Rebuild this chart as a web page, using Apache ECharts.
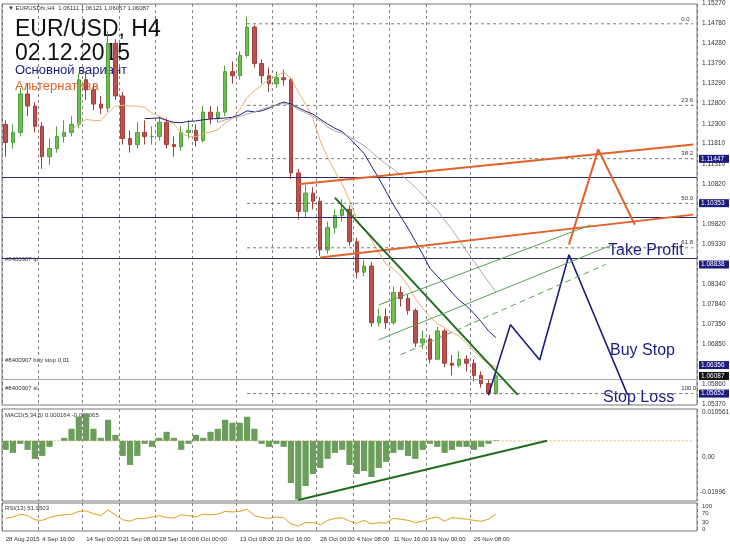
<!DOCTYPE html>
<html><head><meta charset="utf-8">
<script src="https://cdn.jsdelivr.net/npm/echarts@6/dist/echarts.min.js"></script>
<style>html,body{margin:0;padding:0;background:#fff}#c{width:730px;height:546px}</style>
</head><body><div id="c"></div>
<script>
const dates = ["28 Aug 2015","31 Aug","1 Sep","2 Sep","3 Sep","4 Sep 16:00","7 Sep","8 Sep","9 Sep","10 Sep","11 Sep","14 Sep 00:00","15 Sep","16 Sep","17 Sep","18 Sep","21 Sep 08:00","22 Sep","23 Sep","24 Sep","25 Sep","28 Sep 16:00","29 Sep","30 Sep","1 Oct","2 Oct","6 Oct 00:00","6 Oct","7 Oct","8 Oct","9 Oct","12 Oct","13 Oct 08:00","14 Oct","15 Oct","16 Oct","19 Oct","20 Oct 16:00","21 Oct","22 Oct","23 Oct","26 Oct","27 Oct","28 Oct 00:00","29 Oct","30 Oct","2 Nov","3 Nov","4 Nov 08:00","5 Nov","6 Nov","9 Nov","10 Nov","11 Nov 16:00","12 Nov","13 Nov","16 Nov","17 Nov","19 Nov 00:00","19 Nov","20 Nov","23 Nov","24 Nov","25 Nov","26 Nov 08:00","27 Nov","30 Nov","1 Dec"];
const labelIdx = [0,5,11,16,21,26,32,37,43,48,53,58,64];
const futureSlots = 27;
const closes = [1.1185,1.1210,1.1305,1.1275,1.1225,1.1150,1.1170,1.1200,1.1210,1.1230,1.1340,1.1315,1.1280,1.1270,1.1430,1.1300,1.1195,1.1180,1.1210,1.1200,1.1200,1.1235,1.1180,1.1175,1.1210,1.1215,1.1190,1.1260,1.1245,1.1260,1.1360,1.1350,1.1400,1.1470,1.1380,1.1350,1.1330,1.1345,1.1340,1.1110,1.1015,1.1060,1.1040,1.0920,1.0975,1.1005,1.1020,1.0940,1.0865,1.0880,1.0740,1.0755,1.0740,1.0815,1.0800,1.0770,1.0690,1.0700,1.0650,1.0720,1.0640,1.0635,1.0650,1.0640,1.0610,1.0590,1.0565,1.0609];
const highs = [1.1240,1.1230,1.1320,1.1330,1.1285,1.1235,1.1195,1.1225,1.1240,1.1250,1.1355,1.1360,1.1330,1.1300,1.1460,1.1440,1.1310,1.1215,1.1235,1.1240,1.1225,1.1250,1.1245,1.1200,1.1225,1.1240,1.1230,1.1275,1.1275,1.1275,1.1375,1.1385,1.1410,1.1495,1.1475,1.1390,1.1370,1.1360,1.1365,1.1345,1.1120,1.1080,1.1075,1.1050,1.0990,1.1020,1.1045,1.1030,1.0950,1.0895,1.0890,1.0775,1.0775,1.0830,1.0830,1.0810,1.0775,1.0720,1.0710,1.0730,1.0725,1.0660,1.0670,1.0660,1.0650,1.0620,1.0600,1.0620];
const lows = [1.1150,1.1170,1.1200,1.1250,1.1210,1.1120,1.1130,1.1160,1.1185,1.1200,1.1220,1.1290,1.1265,1.1255,1.1260,1.1290,1.1180,1.1160,1.1170,1.1180,1.1180,1.1190,1.1170,1.1150,1.1165,1.1195,1.1175,1.1185,1.1230,1.1235,1.1250,1.1330,1.1340,1.1395,1.1370,1.1330,1.1310,1.1320,1.1325,1.1095,1.0995,1.1000,1.1020,1.0905,1.0910,1.0960,1.0990,1.0930,1.0850,1.0855,1.0730,1.0730,1.0725,1.0735,1.0780,1.0760,1.0680,1.0675,1.0640,1.0650,1.0630,1.0610,1.0630,1.0620,1.0595,1.0580,1.0560,1.0563];
const macd = [-0.003,-0.004,-0.001,-0.003,-0.006,-0.005,-0.002,0,0.001,0.004,0.008,0.009,0.004,0.001,0.007,0.002,-0.005,-0.008,-0.005,-0.001,-0.002,0.001,0.003,0.001,-0.003,-0.001,0.002,0.001,0.003,0.004,0.007,0.006,0.006,0.008,0.004,-0.001,-0.002,-0.001,-0.002,-0.014,-0.0195,-0.015,-0.011,-0.009,-0.006,-0.004,-0.003,-0.008,-0.011,-0.010,-0.012,-0.009,-0.007,-0.004,-0.003,-0.005,-0.006,-0.003,-0.001,-0.002,-0.004,-0.003,-0.002,-0.002,-0.003,-0.002,-0.001,0.0002];
const rsi = [45,50,60,55,40,38,48,55,58,60,70,72,62,55,75,58,40,35,45,45,50,55,48,46,58,55,50,60,58,60,70,68,70,78,55,48,45,50,48,25,18,30,30,22,38,45,48,35,28,38,25,30,28,45,42,38,30,35,45,50,35,48,45,42,38,35,42,60];
const priceTicks = [1.15270,1.14780,1.14280,1.13790,1.13290,1.12800,1.12300,1.11810,1.11310,1.10820,1.09820,1.09330,1.08340,1.07840,1.07350,1.06850,1.05860,1.05370];
const levels = [1.11447,1.10353,1.08838,1.06356,1.05652];
const fibs = [[1.1478,"0.0"],[1.1277,"23.6"],[1.1145,"38.2"],[1.1035,"50.0"],[1.0925,"61.8"],[1.0565,"100.0"]];
const mainPath = [[66,1.0562],[69,1.0735],[73,1.0648],[77,1.0908],[85,1.0562]];
const altPath = [[77,1.0933],[81,1.1168],[86,1.0982]];
const channelTop = [[40,1.1082],[94,1.1180]];
const channelBot = [[43,1.0901],[94,1.1007]];
const trendDown = [[45,1.1049],[70,1.0562]];
const greenA = [[51,1.0784],[80,1.0982]];
const greenB = [[51,1.0698],[83,1.0933]];
const greenC = [[54,1.0661],[82,1.0884]];
const macdTrend = [[40,-0.0196],[74,0]];
const lastPrice = 1.06087;

const cats = dates.concat(Array(futureSlots).fill(""));
const ohlc = closes.map((c, i) => {
  const o = i ? closes[i - 1] : 1.1230;
  return [o, c, Math.min(lows[i], o, c), Math.max(highs[i], o, c)];
});
function sma(n) {
  return closes.map((c, i) => i < n - 1 ? null : closes.slice(i - n + 1, i + 1).reduce((a, b) => a + b, 0) / n);
}
const xs = [0, 1, 2].map(g => ({
  type: "category", gridIndex: g, data: cats, boundaryGap: true,
  axisLine: {show: false}, axisTick: {show: false},
  axisLabel: g === 2 ? {show: true, fontSize: 6, color: "#333", interval: (i) => labelIdx.includes(i), showMinLabel: true, align: "left", margin: 5} : {show: false},
  splitLine: {show: true, interval: (i) => labelIdx.includes(i), lineStyle: {color: "#666", type: [3, 3], width: 0.8}}
}));
function ln(data, color, width, type) {
  return {type: "line", data, symbol: "none", lineStyle: {color, width, type: type || "solid"}, silent: true, z: 5};
}
const chart = echarts.init(document.getElementById("c"));
chart.setOption({
  animation: false,
  backgroundColor: "#fff",
  grid: [
    {left: 2, right: 33, top: 4, height: 401, show: true, borderColor: "#777", borderWidth: 1},
    {left: 2, right: 33, top: 409, height: 92, show: true, borderColor: "#777", borderWidth: 1},
    {left: 2, right: 33, top: 503, height: 28, show: true, borderColor: "#777", borderWidth: 1}
  ],
  xAxis: xs,
  yAxis: [
    {gridIndex: 0, min: 1.0537, max: 1.1527, axisLabel: {show: false}, splitLine: {show: false}},
    {gridIndex: 1, min: -0.01996, max: 0.010561, axisLabel: {show: false}, splitLine: {show: false}},
    {gridIndex: 2, min: 0, max: 100, axisLabel: {show: false}, splitLine: {show: false}}
  ],
  series: [
    {type: "candlestick", xAxisIndex: 0, yAxisIndex: 0, data: ohlc, barWidth: 4,
      itemStyle: {color: "#6fbf4f", color0: "#c0504d", borderColor: "#4f9f3f", borderColor0: "#a0403d"},
      markLine: {symbol: "none", silent: true, label: {show: false},
        data: levels.map(v => ({yAxis: v, lineStyle: {color: "#2a2a6a", width: 1, type: "solid"}}))
          .concat([{yAxis: lastPrice, lineStyle: {color: "#aaa", width: 1, type: "solid"}}])}},
    Object.assign(ln(sma(10), "#e8b070", 1), {xAxisIndex: 0, yAxisIndex: 0}),
    Object.assign(ln(sma(20), "#1f1f7a", 1), {xAxisIndex: 0, yAxisIndex: 0}),
    Object.assign(ln(sma(30), "#aaaaaa", 1), {xAxisIndex: 0, yAxisIndex: 0}),
    ...fibs.map(f => Object.assign(ln([[33, f[0]], [94, f[0]]], "#555", 0.8, [3, 3]), {xAxisIndex: 0, yAxisIndex: 0,
      endLabel: {show: true, formatter: f[1], fontSize: 6, color: "#333", offset: [-20, -5]}})),
    Object.assign(ln(channelTop, "#e0642a", 2), {}),
    Object.assign(ln(channelBot, "#e0642a", 2), {}),
    Object.assign(ln(altPath, "#e0642a", 2), {}),
    Object.assign(ln(mainPath, "#1c1c80", 1.6), {}),
    Object.assign(ln(trendDown, "#1e6e1e", 2), {}),
    Object.assign(ln(greenA, "#5aa05a", 1), {}),
    Object.assign(ln(greenB, "#5aa05a", 1), {}),
    Object.assign(ln(greenC, "#5aa05a", 1, [6, 4]), {}),
    {type: "bar", xAxisIndex: 1, yAxisIndex: 1, data: macd, barCategoryGap: "15%", itemStyle: {color: "#6a9e5a"}, silent: true},
    Object.assign(ln(macdTrend, "#1e6e1e", 2), {xAxisIndex: 1, yAxisIndex: 1}),
    Object.assign(ln([[0, 0], [94, 0]], "#d9a040", 0.8, [2, 2]), {xAxisIndex: 1, yAxisIndex: 1, z: 1}),
    Object.assign(ln(rsi, "#e0a020", 1), {xAxisIndex: 2, yAxisIndex: 2})
  ]
});

const gx = 699;
const texts = [];
priceTicks.forEach(v => {
  const y = chart.convertToPixel({yAxisIndex: 0}, v);
  texts.push({type: "text", left: gx + 3, top: y - 4, style: {text: v.toFixed(5), fontSize: 6.5, fill: "#333"}});
});
levels.forEach(v => {
  const y = chart.convertToPixel({yAxisIndex: 0}, v);
  texts.push({type: "rect", shape: {x: gx, y: y - 4, width: 30, height: 8}, style: {fill: "#1c1c80"}});
  texts.push({type: "text", left: gx + 2, top: y - 3.5, style: {text: v.toFixed(5), fontSize: 6.5, fill: "#fff"}});
});
{
  const y = chart.convertToPixel({yAxisIndex: 0}, lastPrice);
  texts.push({type: "rect", shape: {x: gx, y: y - 4, width: 30, height: 8}, style: {fill: "#111"}});
  texts.push({type: "text", left: gx + 2, top: y - 3.5, style: {text: lastPrice.toFixed(5), fontSize: 6.5, fill: "#fff"}});
}
[["#8400907 tp", 1.08838], ["#8400907 buy stop 0.01", 1.06356], ["#8400907 sl", 1.05652]].forEach(t => {
  const y = chart.convertToPixel({yAxisIndex: 0}, t[1]);
  texts.push({type: "text", left: 5, top: y - 8, style: {text: t[0], fontSize: 6, fill: "#333"}});
});
texts.push(
  {type: "text", left: 702, top: 409, style: {text: "0.010561", fontSize: 6.5, fill: "#333"}},
  {type: "text", left: 702, top: 454, style: {text: "0.00", fontSize: 6.5, fill: "#333"}},
  {type: "text", left: 700, top: 489, style: {text: "-0.01996", fontSize: 6.5, fill: "#333"}},
  {type: "text", left: 702, top: 503, style: {text: "100", fontSize: 6, fill: "#333"}},
  {type: "text", left: 702, top: 510, style: {text: "70", fontSize: 6, fill: "#333"}},
  {type: "text", left: 702, top: 519, style: {text: "30", fontSize: 6, fill: "#333"}},
  {type: "text", left: 702, top: 526, style: {text: "0", fontSize: 6, fill: "#333"}},
  {type: "text", left: 5, top: 412, style: {text: "MACD(5,34,5) 0.000164 -0.000065", fontSize: 6, fill: "#333"}},
  {type: "text", left: 5, top: 505, style: {text: "RSI(13) 51.9503", fontSize: 6, fill: "#333"}},
  {type: "text", left: 8, top: 5, style: {text: "▼ EURUSDfx,H4  1.06111 1.06121 1.06067 1.06087", fontSize: 6, fill: "#333"}},
  {type: "text", left: 15, top: 18, style: {text: "EUR/USD, H4", fontSize: 23, fill: "#111", fontFamily: "Liberation Sans"}},
  {type: "text", left: 15, top: 42, style: {text: "02.12.2015", fontSize: 23, fill: "#111", fontFamily: "Liberation Sans"}},
  {type: "text", left: 15, top: 64, style: {text: "Основной вариант", fontSize: 13, fill: "#1c1c80", fontFamily: "Liberation Sans"}},
  {type: "text", left: 15, top: 80, style: {text: "Альтернатива", fontSize: 13, fill: "#e0642a", fontFamily: "Liberation Sans"}},
  {type: "text", left: 608, top: 243, style: {text: "Take Profit", fontSize: 16, fill: "#1c1c80", fontFamily: "Liberation Sans"}},
  {type: "text", left: 610, top: 343, style: {text: "Buy Stop", fontSize: 16, fill: "#1c1c80", fontFamily: "Liberation Sans"}},
  {type: "text", left: 603, top: 390, style: {text: "Stop Loss", fontSize: 16, fill: "#1c1c80", fontFamily: "Liberation Sans"}}
);
chart.setOption({graphic: texts});
</script></body></html>
